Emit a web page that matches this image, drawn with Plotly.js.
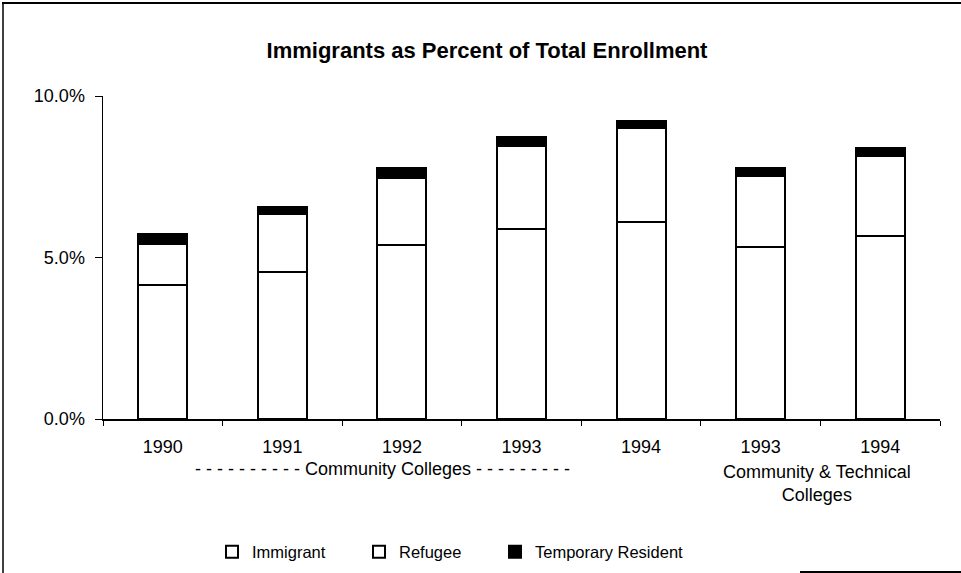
<!DOCTYPE html>
<html>
<head>
<meta charset="utf-8">
<script src="https://cdn.plot.ly/plotly-3.0.1.min.js"></script>
<style>
  html, body { margin: 0; padding: 0; background: #ffffff; }
  #chart { width: 961px; height: 573px; }
</style>
</head>
<body>
<div id="chart"></div>
<script>
// ---- Data (percent of total enrollment) ----
var categoryKeys = ["CC 1990", "CC 1991", "CC 1992", "CC 1993", "CC 1994", "CTC 1993", "CTC 1994"];
var tickLabels   = ["1990", "1991", "1992", "1993", "1994", "1993", "1994"];
var immigrant    = [4.15, 4.56, 5.39, 5.88, 6.11, 5.33, 5.67];
var refugee      = [1.26, 1.78, 2.06, 2.58, 2.89, 2.20, 2.47];
var temporary    = [0.31, 0.22, 0.33, 0.26, 0.24, 0.23, 0.24];
var yTickValues  = [0, 5, 10];
var yTickLabels  = ["0.0%", "5.0%", "10.0%"];
var seriesNames  = ["Immigrant", "Refugee", "Temporary Resident"];
var titleText    = "Immigrants as Percent of Total Enrollment";
var groupLabelCC  = "- - - - - - - - - - Community Colleges - - - - - - - - -";
var groupLabelCTC = "Community &amp; Technical<br>Colleges";

// ---- Layout geometry ----
var W = 961, H = 573;
var M = { l: 103, r: 21, t: 96, b: 154, autoexpand: false };
var PW = W - M.l - M.r, PH = H - M.t - M.b;
function px2x(px) { return (px - M.l) / PW; }
function px2y(py) { return (H - M.b - py) / PH; }

var FONT = "Liberation Sans, Arial, sans-serif";

var traces = [
  { type: "bar", name: seriesNames[0], x: categoryKeys, y: immigrant, legend: "legend",
    marker: { color: "#ffffff", line: { color: "#000000", width: 2 } } },
  { type: "bar", name: seriesNames[1], x: categoryKeys, y: refugee, legend: "legend2",
    marker: { color: "#ffffff", line: { color: "#000000", width: 2 } } },
  { type: "bar", name: seriesNames[2], x: categoryKeys, y: temporary, legend: "legend3",
    marker: { color: "#000000", line: { color: "#000000", width: 2 } } }
];

function legendAt(pxLeft) {
  return {
    orientation: "h",
    xref: "paper", x: px2x(pxLeft), xanchor: "left",
    yref: "paper", y: px2y(552), yanchor: "middle",
    font: { family: FONT, size: 16.5, color: "#000000" },
    bgcolor: "rgba(0,0,0,0)",
    itemwidth: 30
  };
}

var layout = {
  width: W, height: H,
  margin: M,
  paper_bgcolor: "#ffffff",
  plot_bgcolor: "#ffffff",
  font: { family: FONT, size: 18, color: "#000000" },
  barmode: "stack",
  bargap: 0.59,
  showlegend: true,
  title: {
    text: "<b>" + titleText + "</b>",
    font: { family: FONT, size: 22, color: "#000000" },
    xref: "container", x: 487 / W, xanchor: "center",
    yref: "container", y: 1 - 50 / H, yanchor: "middle"
  },
  xaxis: {
    type: "category",
    tickmode: "array",
    tickvals: categoryKeys,
    ticktext: tickLabels,
    tickson: "boundaries",
    ticks: "outside", ticklen: 5, tickwidth: 1, tickcolor: "#000000",
    ticklabelstandoff: 11,
    showline: true, linecolor: "#000000", linewidth: 1.5,
    showgrid: false, zeroline: false,
    tickfont: { family: FONT, size: 18, color: "#000000" },
    fixedrange: true
  },
  yaxis: {
    range: [0, 10],
    tickmode: "array",
    tickvals: yTickValues,
    ticktext: yTickLabels,
    ticks: "outside", ticklen: 7, tickwidth: 1, tickcolor: "#000000",
    ticklabelstandoff: 6,
    showline: true, linecolor: "#000000", linewidth: 1.5,
    showgrid: false, zeroline: false,
    tickfont: { family: FONT, size: 18, color: "#000000" },
    fixedrange: true
  },
  legend: legendAt(212),
  legend2: legendAt(359),
  legend3: legendAt(495),
  annotations: [
    { xref: "paper", yref: "paper", x: px2x(382), y: px2y(469),
      xanchor: "center", yanchor: "middle", showarrow: false,
      text: groupLabelCC, font: { family: FONT, size: 18, color: "#000000" } },
    { xref: "paper", yref: "paper", x: px2x(817), y: px2y(483),
      xanchor: "center", yanchor: "middle", showarrow: false,
      text: groupLabelCTC, font: { family: FONT, size: 18, color: "#000000" } }
  ],
  shapes: [
    // outer frame: top edge, left edge, bottom-right segment
    { type: "line", xref: "paper", yref: "paper", x0: px2x(2), x1: px2x(961), y0: px2y(3), y1: px2y(3),
      line: { color: "#000000", width: 2 } },
    { type: "line", xref: "paper", yref: "paper", x0: px2x(3), x1: px2x(3), y0: px2y(3), y1: px2y(573),
      line: { color: "#000000", width: 1.5 } },
    { type: "line", xref: "paper", yref: "paper", x0: px2x(800), x1: px2x(961), y0: px2y(572), y1: px2y(572),
      line: { color: "#000000", width: 2 } }
  ]
};

Plotly.newPlot("chart", traces, layout, { staticPlot: true, displayModeBar: false });
</script>
</body>
</html>
